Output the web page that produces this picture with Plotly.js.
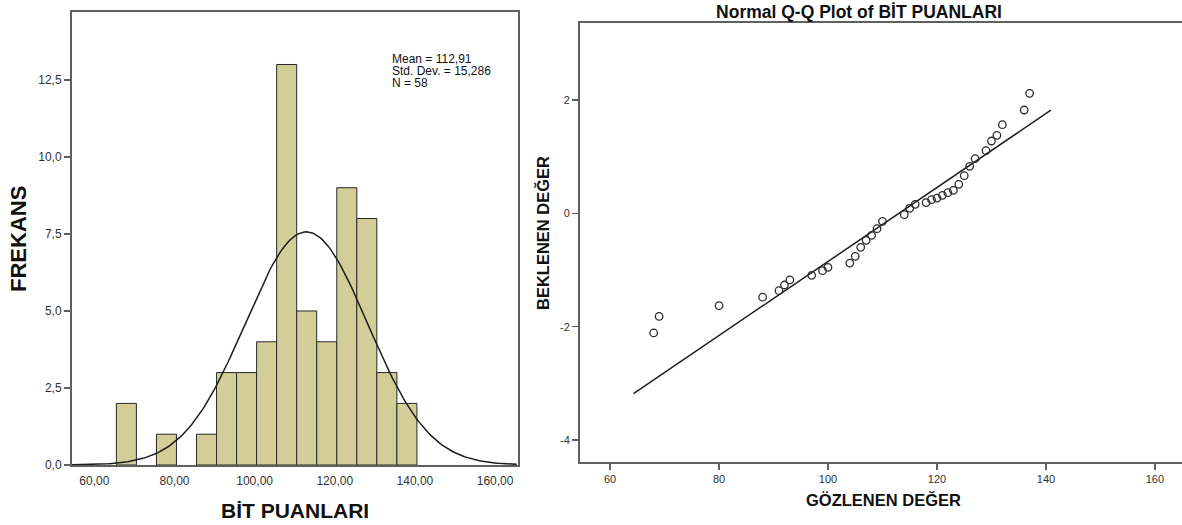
<!DOCTYPE html>
<html>
<head>
<meta charset="utf-8">
<script src="https://cdn.plot.ly/plotly-3.0.1.min.js"></script>
<style>html,body{margin:0;padding:0;background:#fff;}#chart{width:1182px;height:525px;}</style>
</head>
<body>
<div id="chart"></div>
<script>
// ---- Histogram data (BİT PUANLARI) ----
const binCenters = [68, 78, 88, 93, 98, 103, 108, 113, 118, 123, 128, 133, 138];
const binCounts  = [2, 1, 1, 3, 3, 4, 13, 5, 4, 9, 8, 3, 2];
const BIN_WIDTH = 5;
// statistics shown in the chart legend
const MEAN = 112.91;
const SD = 15.286;
const N = 58;
const statLines = ["Mean = 112,91", "Std. Dev. = 15,286", "N = 58"];

// ---- Normal Q-Q data ----
const qqObserved = [68, 69, 80, 88, 91, 92, 93, 97, 99, 100, 104, 105, 106, 107, 108, 109, 110,
  114, 115, 116, 118, 119, 120, 121, 122, 123, 124, 125, 126, 127, 129, 130, 131, 132, 136, 137];
const qqExpected = [-2.11, -1.82, -1.63, -1.48, -1.365, -1.265, -1.176, -1.094, -1.012, -0.953,
  -0.877, -0.759, -0.60, -0.476, -0.388, -0.27, -0.141, -0.024, 0.088, 0.159, 0.189, 0.241, 0.27,
  0.318, 0.365, 0.406, 0.512, 0.665, 0.829, 0.965, 1.106, 1.276, 1.376, 1.565, 1.823, 2.117];
const qqLineX = [64.3, 140.9];
const qqLineY = [-3.18, 1.82];
const qqYTickVals = [-4, -2, 0, 2];
const qqYTickText = ["-4", "-2", "0", "2"];

// normal curve scaled to the histogram (from the shown mean / sd / N)
const curveX = [], curveY = [];
for (let x = 54.4; x <= 165.7; x += 0.5) {
  curveX.push(x);
  curveY.push(N * BIN_WIDTH / (SD * Math.sqrt(2 * Math.PI)) * Math.exp(-0.5 * Math.pow((x - MEAN) / SD, 2)));
}

const W = 1182, H = 525;
const px = v => v / W, py = v => 1 - v / H;
const FONT = "Liberation Sans, Arial, sans-serif";
const FRAME = "rgb(95,95,95)";

const traces = [
  {type: "bar", x: binCenters, y: binCounts, width: BIN_WIDTH,
   marker: {color: "rgb(211,206,151)", line: {color: "rgb(40,40,40)", width: 1}},
   xaxis: "x", yaxis: "y", hoverinfo: "x+y"},
  {type: "scatter", mode: "lines", x: curveX, y: curveY,
   line: {color: "rgb(30,30,30)", width: 1.5}, xaxis: "x", yaxis: "y"},
  {type: "scatter", mode: "lines", x: qqLineX, y: qqLineY,
   line: {color: "rgb(30,30,30)", width: 1.5}, xaxis: "x2", yaxis: "y2"},
  {type: "scatter", mode: "markers", x: qqObserved, y: qqExpected,
   marker: {symbol: "circle-open", size: 7.5, color: "rgb(45,45,45)", line: {width: 1.3}},
   xaxis: "x2", yaxis: "y2"}
];

const layout = {
  width: W, height: H,
  margin: {l: 0, r: 0, t: 0, b: 0},
  paper_bgcolor: "#fff", plot_bgcolor: "#fff",
  showlegend: false,
  separators: ",.",
  font: {family: FONT, color: "#222", size: 12},
  title: {text: "<b>Normal Q-Q Plot of BİT PUANLARI</b>", x: px(859), xanchor: "center",
          y: py(12), yanchor: "middle", xref: "paper", yref: "paper",
          font: {family: FONT, size: 17.5, color: "#111"}},
  xaxis: {domain: [px(72), px(517.5)], range: [54.43, 165.6], anchor: "y",
          tick0: 60, dtick: 20, tickformat: ".2f", ticks: "", showgrid: false, zeroline: false,
          ticklabelstandoff: 4,
          showline: true, linecolor: FRAME, linewidth: 2, mirror: true,
          tickfont: {size: 12, color: "#333"}},
  yaxis: {domain: [py(465), py(11.5)], range: [0, 14.72], anchor: "x",
          tick0: 0, dtick: 2.5, tickformat: ".1f", ticks: "outside", ticklen: 6, tickwidth: 1.5,
          tickcolor: FRAME, showgrid: false, zeroline: false,
          showline: true, linecolor: FRAME, linewidth: 2, mirror: true,
          tickfont: {size: 12, color: "#333"}},
  xaxis2: {domain: [px(580), 1], range: [54.48, 164.97], anchor: "y2",
          tick0: 60, dtick: 20, ticks: "outside", ticklen: 6, tickwidth: 1.5, tickcolor: FRAME,
          showgrid: false, zeroline: false,
          showline: true, linecolor: FRAME, linewidth: 2, mirror: true,
          tickfont: {size: 11, color: "#333"}},
  yaxis2: {domain: [py(461.7), py(22.7)], range: [-4.383, 3.364], anchor: "x2",
          tickvals: qqYTickVals, ticktext: qqYTickText,
          ticks: "outside", ticklen: 6, tickwidth: 1.5, tickcolor: FRAME,
          showgrid: false, zeroline: false,
          showline: true, linecolor: FRAME, linewidth: 2, mirror: false,
          tickfont: {size: 11, color: "#333"}},
  annotations: [
    {text: "<b>FREKANS</b>", xref: "paper", yref: "paper", x: px(18), y: py(239),
     xanchor: "center", yanchor: "middle", textangle: -90, showarrow: false,
     font: {family: FONT, size: 22, color: "#111"}},
    {text: "<b>BİT PUANLARI</b>", xref: "paper", yref: "paper", x: px(295), y: py(510),
     xanchor: "center", yanchor: "middle", showarrow: false,
     font: {family: FONT, size: 21, color: "#111"}},
    {text: "<b>BEKLENEN DEĞER</b>", xref: "paper", yref: "paper", x: px(543), y: py(233),
     xanchor: "center", yanchor: "middle", textangle: -90, showarrow: false,
     font: {family: FONT, size: 16.5, color: "#111"}},
    {text: "<b>GÖZLENEN DEĞER</b>", xref: "paper", yref: "paper", x: px(883), y: py(500),
     xanchor: "center", yanchor: "middle", showarrow: false,
     font: {family: FONT, size: 16.5, color: "#111"}}
  ].concat(statLines.map((t, i) => ({
    text: t, xref: "paper", yref: "paper", x: px(390), y: py(58.5 + 12 * i),
    xanchor: "left", yanchor: "middle", showarrow: false,
    font: {family: FONT, size: 12, color: "#111"}
  })))
};

Plotly.newPlot("chart", traces, layout, {displayModeBar: false, staticPlot: true});
</script>
</body>
</html>
